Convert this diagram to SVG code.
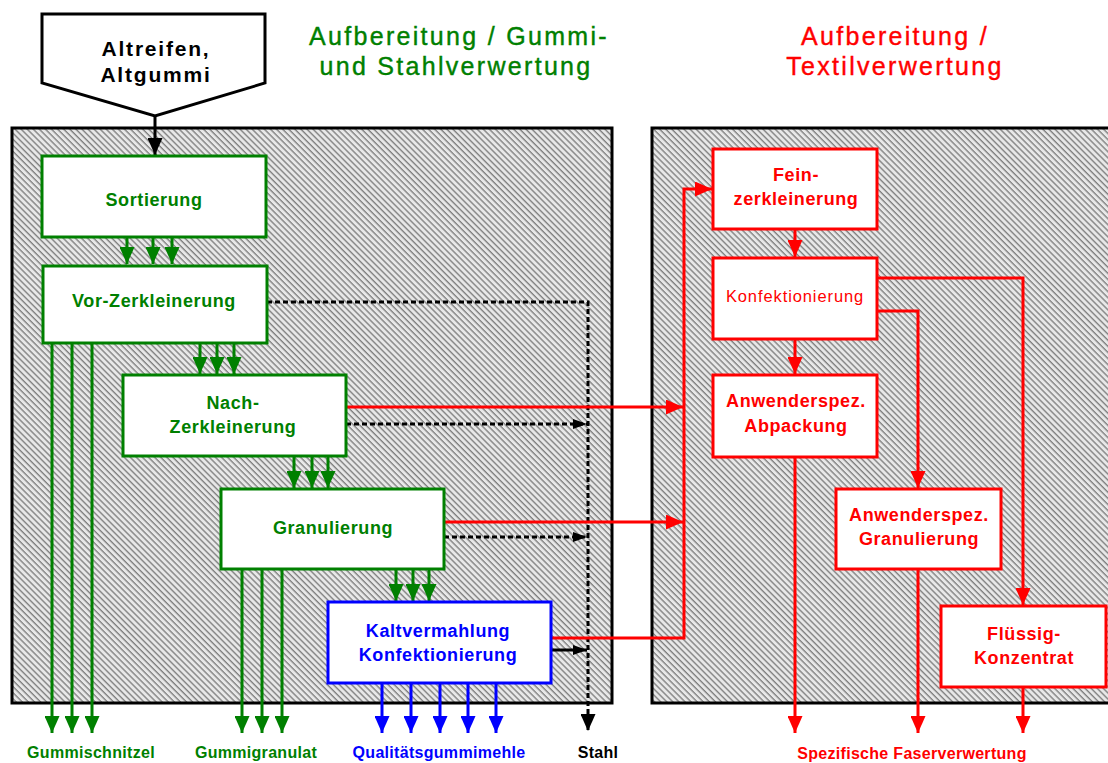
<svg xmlns="http://www.w3.org/2000/svg" width="1108" height="763" viewBox="0 0 1108 763">
<style>
.t{font-family:"Liberation Sans",Arial,sans-serif;text-anchor:middle}
.b{font-weight:bold}
.bx{font-size:18px;font-weight:bold;letter-spacing:0.6px}
.g{fill:#008000}.r{fill:#ff0000}.bl{fill:#0000ff}.k{fill:#000}
.box{fill:#fff;stroke-width:3}
.gs{stroke:#008000}.rs{stroke:#ff0000}.bs{stroke:#0000ff}
.ln{fill:none;stroke-width:3}
.lg{stroke:#008000}.lr{stroke:#ff0000}.lb{stroke:#0000ff}.lk{stroke:#000}
.dash{stroke-dasharray:5 3}
.title{font-size:25px;letter-spacing:2.3px;stroke-width:0.4px}
.lab{font-size:16px;font-weight:bold;letter-spacing:0.3px}
</style>
<defs>
<pattern id="hatch" width="4.3" height="10" patternUnits="userSpaceOnUse" patternTransform="rotate(-45)">
<rect width="4.3" height="10" fill="#e8e8e8"/>
<line x1="1" y1="0" x2="1" y2="10" stroke="#666" stroke-width="1.1"/>
</pattern>
<marker id="ag" markerUnits="userSpaceOnUse" markerWidth="18" markerHeight="15" refX="17" refY="7.5" orient="auto"><path d="M0,0 L17,7.5 L0,15 z" fill="#008000"/></marker>
<marker id="ar" markerUnits="userSpaceOnUse" markerWidth="18" markerHeight="15" refX="17" refY="7.5" orient="auto"><path d="M0,0 L17,7.5 L0,15 z" fill="#ff0000"/></marker>
<marker id="ab" markerUnits="userSpaceOnUse" markerWidth="18" markerHeight="15" refX="17" refY="7.5" orient="auto"><path d="M0,0 L17,7.5 L0,15 z" fill="#0000ff"/></marker>
<marker id="ak" markerUnits="userSpaceOnUse" markerWidth="18" markerHeight="15" refX="17" refY="7.5" orient="auto"><path d="M0,0 L17,7.5 L0,15 z" fill="#000"/></marker>
<marker id="aks" markerUnits="userSpaceOnUse" markerWidth="15" markerHeight="11" refX="14" refY="5" orient="auto"><path d="M0,0 L14,5 L0,10 z" fill="#000"/></marker>
</defs>
<rect width="1108" height="763" fill="#fff"/>

<g id="panels">
<rect x="12" y="128" width="600" height="575" fill="url(#hatch)" stroke="#000" stroke-width="3"/>
<rect x="652" y="128" width="470" height="575" fill="url(#hatch)" stroke="#000" stroke-width="3"/>
</g>

<g id="titles">
<text class="t g title" x="459" y="45" stroke="#008000">Aufbereitung / Gummi-</text>
<text class="t g title" x="456" y="75" stroke="#008000">und Stahlverwertung</text>
<text class="t r title" x="895" y="45" stroke="#ff0000">Aufbereitung /</text>
<text class="t r title" x="895" y="75" stroke="#ff0000">Textilverwertung</text>
</g>

<g id="connectors">
<line class="ln lk" x1="155" y1="116" x2="155" y2="155" marker-end="url(#ak)"/>
<line class="ln lg" x1="127" y1="237" x2="127" y2="264" marker-end="url(#ag)"/>
<line class="ln lg" x1="153" y1="237" x2="153" y2="264" marker-end="url(#ag)"/>
<line class="ln lg" x1="172" y1="237" x2="172" y2="264" marker-end="url(#ag)"/>
<line class="ln lg" x1="200" y1="343" x2="200" y2="374" marker-end="url(#ag)"/>
<line class="ln lg" x1="217" y1="343" x2="217" y2="374" marker-end="url(#ag)"/>
<line class="ln lg" x1="234" y1="343" x2="234" y2="374" marker-end="url(#ag)"/>
<line class="ln lg" x1="294" y1="456" x2="294" y2="488" marker-end="url(#ag)"/>
<line class="ln lg" x1="312" y1="456" x2="312" y2="488" marker-end="url(#ag)"/>
<line class="ln lg" x1="328" y1="456" x2="328" y2="488" marker-end="url(#ag)"/>
<line class="ln lg" x1="396" y1="569" x2="396" y2="601" marker-end="url(#ag)"/>
<line class="ln lg" x1="413" y1="569" x2="413" y2="601" marker-end="url(#ag)"/>
<line class="ln lg" x1="429" y1="569" x2="429" y2="601" marker-end="url(#ag)"/>
<line class="ln lg" x1="52" y1="343" x2="52" y2="733" marker-end="url(#ag)"/>
<line class="ln lg" x1="72" y1="343" x2="72" y2="733" marker-end="url(#ag)"/>
<line class="ln lg" x1="92" y1="343" x2="92" y2="733" marker-end="url(#ag)"/>
<line class="ln lg" x1="242" y1="569" x2="242" y2="733" marker-end="url(#ag)"/>
<line class="ln lg" x1="262" y1="569" x2="262" y2="733" marker-end="url(#ag)"/>
<line class="ln lg" x1="282" y1="569" x2="282" y2="733" marker-end="url(#ag)"/>
<line class="ln lb" x1="382" y1="683" x2="382" y2="733" marker-end="url(#ab)"/>
<line class="ln lb" x1="411" y1="683" x2="411" y2="733" marker-end="url(#ab)"/>
<line class="ln lb" x1="440" y1="683" x2="440" y2="733" marker-end="url(#ab)"/>
<line class="ln lb" x1="468" y1="683" x2="468" y2="733" marker-end="url(#ab)"/>
<line class="ln lb" x1="496" y1="683" x2="496" y2="733" marker-end="url(#ab)"/>
<polyline class="ln lk dash" points="267,302 588,302 588,731" marker-end="url(#ak)"/>
<line class="ln lk dash" x1="346" y1="424" x2="587" y2="424" marker-end="url(#aks)"/>
<line class="ln lk dash" x1="444" y1="537" x2="587" y2="537" marker-end="url(#aks)"/>
<line class="ln lk" x1="551" y1="650" x2="587" y2="650" marker-end="url(#aks)"/>
<line class="ln lr" x1="346" y1="407" x2="683" y2="407" marker-end="url(#ar)"/>
<line class="ln lr" x1="444" y1="522" x2="683" y2="522" marker-end="url(#ar)"/>
<polyline class="ln lr" points="551,638 684,638 684,189 712,189" marker-end="url(#ar)"/>
<line class="ln lr" x1="795" y1="229" x2="795" y2="257" marker-end="url(#ar)"/>
<line class="ln lr" x1="795" y1="339" x2="795" y2="374" marker-end="url(#ar)"/>
<polyline class="ln lr" points="877,311 918,311 918,488" marker-end="url(#ar)"/>
<polyline class="ln lr" points="877,278 1023,278 1023,605" marker-end="url(#ar)"/>
<line class="ln lr" x1="795" y1="457" x2="795" y2="733" marker-end="url(#ar)"/>
<line class="ln lr" x1="918" y1="569" x2="918" y2="733" marker-end="url(#ar)"/>
<line class="ln lr" x1="1023" y1="687" x2="1023" y2="733" marker-end="url(#ar)"/>
</g>

<g id="input">
<polygon points="42,14 265,14 265,83 155,116 42,83" fill="#fff" stroke="#000" stroke-width="3"/>
<text class="t b k" x="156" y="56" font-size="21" letter-spacing="1.8">Altreifen,</text>
<text class="t b k" x="156" y="82" font-size="21" letter-spacing="1.8">Altgummi</text>
</g>

<g id="sortierung">
<rect class="box gs" x="42" y="156" width="224" height="81"/>
<text class="t bx g" x="154" y="206">Sortierung</text>
</g>
<g id="vorzerkleinerung">
<rect class="box gs" x="43" y="266" width="224" height="77"/>
<text class="t bx g" x="154" y="307">Vor-Zerkleinerung</text>
</g>
<g id="nachzerkleinerung">
<rect class="box gs" x="123" y="375" width="223" height="81"/>
<text class="t bx g" x="233" y="409">Nach-</text>
<text class="t bx g" x="233" y="433">Zerkleinerung</text>
</g>
<g id="granulierung">
<rect class="box gs" x="221" y="489" width="223" height="80"/>
<text class="t bx g" x="333" y="534">Granulierung</text>
</g>
<g id="kaltvermahlung">
<rect class="box bs" x="328" y="602" width="223" height="81"/>
<text class="t bx bl" x="438" y="637">Kaltvermahlung</text>
<text class="t bx bl" x="438" y="661">Konfektionierung</text>
</g>

<g id="feinzerkleinerung">
<rect class="box rs" x="713" y="149" width="164" height="80"/>
<text class="t bx r" x="796" y="181">Fein-</text>
<text class="t bx r" x="796" y="205">zerkleinerung</text>
</g>
<g id="konfektionierung">
<rect class="box rs" x="713" y="258" width="164" height="81"/>
<text class="t r" x="795" y="302" font-size="16.5" letter-spacing="0.9">Konfektionierung</text>
</g>
<g id="abpackung">
<rect class="box rs" x="713" y="375" width="164" height="82"/>
<text class="t bx r" x="796" y="407">Anwenderspez.</text>
<text class="t bx r" x="796" y="432">Abpackung</text>
</g>
<g id="anwgranulierung">
<rect class="box rs" x="836" y="489" width="165" height="80"/>
<text class="t bx r" x="919" y="521">Anwenderspez.</text>
<text class="t bx r" x="919" y="545">Granulierung</text>
</g>
<g id="fluessig">
<rect class="box rs" x="941" y="606" width="165" height="81"/>
<text class="t bx r" x="1024" y="640">Flüssig-</text>
<text class="t bx r" x="1024" y="664">Konzentrat</text>
</g>

<g id="outputs">
<text class="t lab g" x="91" y="758">Gummischnitzel</text>
<text class="t lab g" x="256" y="758">Gummigranulat</text>
<text class="t lab bl" x="439" y="758">Qualitätsgummimehle</text>
<text class="t lab k" x="598" y="758">Stahl</text>
<text class="t lab r" x="912" y="759">Spezifische Faserverwertung</text>
</g>
</svg>
